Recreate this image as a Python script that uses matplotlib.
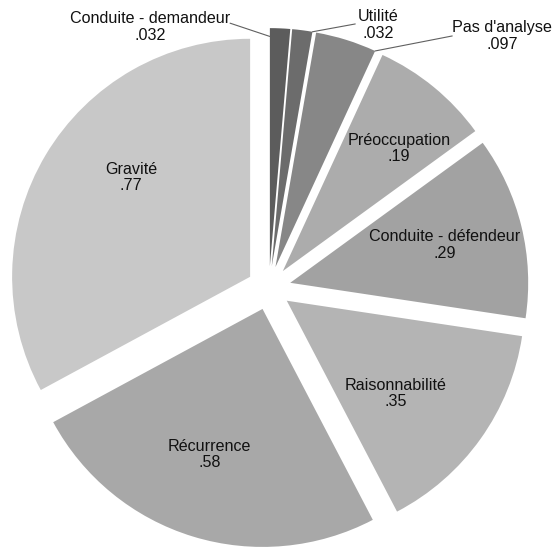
import numpy as np
import matplotlib
matplotlib.use("Agg")
import matplotlib.pyplot as plt

plt.rcParams["font.family"] = ["Liberation Sans", "DejaVu Sans"]

# clockwise from 12 o'clock
categories = [
    "Conduite - demandeur", "Utilité", "Pas d'analyse", "Préoccupation",
    "Conduite - défendeur", "Raisonnabilité", "Récurrence", "Gravité",
]
values = [0.032, 0.032, 0.097, 0.19, 0.29, 0.35, 0.58, 0.77]
value_labels = [".032", ".032", ".097", ".19", ".29", ".35", ".58", ".77"]

colors = ["#5c5c5c", "#6c6c6c", "#878787", "#acacac",
          "#a2a2a2", "#b4b4b4", "#a8a8a8", "#c8c8c8"]

# inside labels: (radial fraction, angle offset in degrees from bisector)
inside = {
    3: (0.71, -4),
    4: (0.67, 0),
    5: (0.60, -5),
    6: (0.65, -3),
    7: (0.65, -9),
}
# outside labels: text position, wedge edge the leader lands on, radius,
# relpos on the text, whether the line touches the text
outside = {
    0: ((-0.50, 1.097), "theta2", 0.965, (1.0, 0.62), True),
    1: ((0.46, 1.105), "theta1", 1.0, (0.0, 0.55), False),
    2: ((0.98, 1.059), "theta1", 1.0, (0.0, 0.5), True),
}

FS = 11.6

fig = plt.figure(figsize=(5.55, 5.51), dpi=100)
ax = fig.add_axes([0, 0, 1, 1])

wedges, _ = ax.pie(values, colors=colors, startangle=90, counterclock=False,
                   explode=[0.092] * len(values),
                   wedgeprops=dict(linewidth=0))

for i, w in enumerate(wedges):
    cx, cy = w.center
    txt = f"{categories[i]}\n{value_labels[i]}"
    if i in inside:
        frac, dth = inside[i]
        mid = np.deg2rad((w.theta1 + w.theta2) / 2 + dth)
        ax.text(cx + frac * np.cos(mid), cy + frac * np.sin(mid), txt,
                ha="center", va="center", fontsize=FS, linespacing=1.1,
                color="#111111")
    else:
        pos, edge, rr, relpos, touch = outside[i]
        ang = np.deg2rad(getattr(w, edge))
        tip = (cx + rr * np.cos(ang), cy + rr * np.sin(ang))
        arrow = dict(arrowstyle="-", color="#606060", lw=0.8,
                     relpos=relpos, shrinkA=0, shrinkB=0)
        if touch:
            arrow["patchA"] = None
        ax.annotate(txt, xy=tip, xytext=pos, ha="center", va="center",
                    fontsize=FS, linespacing=1.1, color="#111111",
                    arrowprops=arrow)

ax.set_xlim(-1.130, 1.202)
ax.set_ylim(-1.105, 1.210)
ax.axis("off")

fig.savefig("out.png", dpi=100, facecolor="white")
